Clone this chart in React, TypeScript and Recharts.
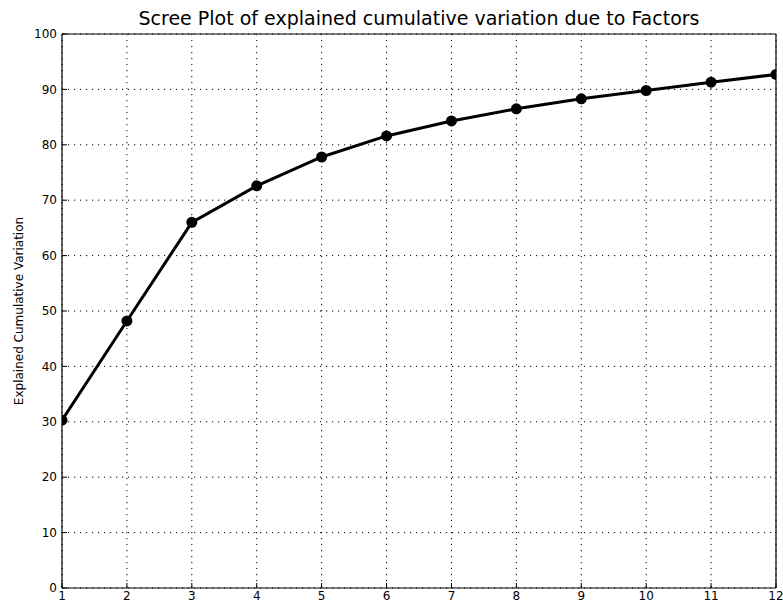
import { LineChart, Line, XAxis, YAxis, CartesianGrid } from 'recharts';

// factors on the x axis and the cumulative %
const factors = [1, 2, 3, 4, 5, 6, 7, 8, 9, 10, 11, 12];
const cumulativeVariation = [30.3, 48.2, 66.0, 72.6, 77.8, 81.6, 84.3, 86.5, 88.3, 89.8, 91.3, 92.7];
const yTicks = [0, 10, 20, 30, 40, 50, 60, 70, 80, 90, 100];

const title = 'Scree Plot of explained cumulative variation due to Factors';
const yLabel = 'Explained Cumulative Variation';

const data = factors.map((f, i) => ({ factor: f, cumulative: cumulativeVariation[i] }));

const font = 'DejaVu Sans, sans-serif';
const tickStyle = { fill: '#000', fontSize: 12, fontFamily: font };

export default function App() {
  return (
    <div style={{ position: 'absolute', left: 0, top: 0, width: 783, height: 610, background: '#fff', fontFamily: font }}>
      <div
        style={{
          position: 'absolute',
          left: 62,
          width: 714,
          top: 7,
          textAlign: 'center',
          fontSize: 19,
          lineHeight: '22px',
          color: '#000',
        }}
      >
        {title}
      </div>
      <LineChart width={783} height={610} data={data} margin={{ top: 33, right: 6, bottom: 0, left: 0 }}>
        <CartesianGrid xAxisId="bottom" yAxisId="left" stroke="#000" strokeWidth={1} strokeDasharray="1.2 4.8" />
        <XAxis
          xAxisId="bottom"
          dataKey="factor"
          type="number"
          domain={[1, 12]}
          ticks={factors}
          allowDataOverflow
          height={22}
          tickSize={-5}
          tickMargin={8}
          tick={tickStyle}
          stroke="#000"
          axisLine={{ stroke: '#000', strokeWidth: 1.2 }}
          tickLine={{ stroke: '#000' }}
        />
        <XAxis
          xAxisId="top"
          orientation="top"
          dataKey="factor"
          type="number"
          domain={[1, 12]}
          ticks={factors}
          allowDataOverflow
          height={1}
          tickSize={-5}
          tick={false}
          axisLine={{ stroke: '#000', strokeWidth: 1.2 }}
          tickLine={{ stroke: '#000' }}
        />
        <YAxis
          yAxisId="left"
          domain={[0, 100]}
          ticks={yTicks}
          allowDataOverflow
          width={62}
          tickSize={-5}
          tickMargin={10}
          tick={tickStyle}
          axisLine={{ stroke: '#000', strokeWidth: 1.2 }}
          tickLine={{ stroke: '#000' }}
          label={{ value: yLabel, angle: -90, position: 'center', dx: -12, style: { fill: '#000', fontSize: 12, fontFamily: font } }}
        />
        <YAxis
          yAxisId="right"
          orientation="right"
          domain={[0, 100]}
          ticks={yTicks}
          allowDataOverflow
          width={1}
          tickSize={-5}
          tick={false}
          axisLine={{ stroke: '#000', strokeWidth: 1.2 }}
          tickLine={{ stroke: '#000' }}
        />
        <Line
          xAxisId="bottom"
          yAxisId="left"
          dataKey="cumulative"
          type="linear"
          stroke="#000"
          strokeWidth={3}
          dot={{ r: 5.5, fill: '#000', stroke: '#000', strokeWidth: 0 }}
          activeDot={false}
          isAnimationActive={false}
        />
      </LineChart>
    </div>
  );
}
